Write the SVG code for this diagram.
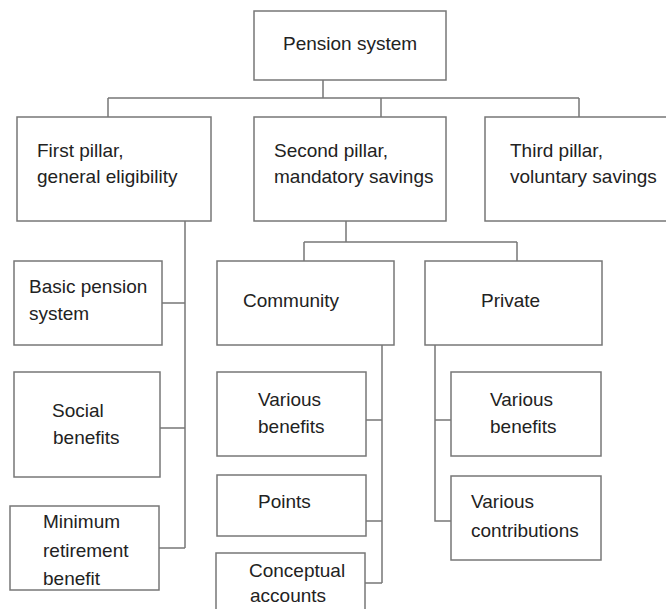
<svg xmlns="http://www.w3.org/2000/svg" width="666" height="609" viewBox="0 0 666 609">
<style>
.box{fill:#fff;stroke:#777;stroke-width:1.5}
.ln{fill:none;stroke:#777;stroke-width:1.5}
text{font-family:"Liberation Sans",Arial,sans-serif;font-size:19px;fill:#222}
</style>
<rect width="666" height="609" fill="#fff"/>
<g id="connectors" class="ln">
<path d="M323 80V98M108 98H579M108 98V117M381 98V117M579 98V117"/>
<path d="M185 221V548M162 303H185M160 428H185M159 548H185"/>
<path d="M346 221V242M304 242H517M304 242V261M517 242V261"/>
<path d="M382 345V583M366 420H382M366 521H382M365 583H382"/>
<path d="M435 345V521H451M435 420H451"/>
</g>
<g id="root"><rect class="box" x="254" y="11" width="192" height="69"/><text x="283" y="50">Pension system</text></g>
<g id="first"><rect class="box" x="17" y="117" width="194" height="104"/><text x="37" y="157">First pillar,</text><text x="37" y="183">general eligibility</text></g>
<g id="second"><rect class="box" x="254" y="117" width="192" height="104"/><text x="274" y="157">Second pillar,</text><text x="274" y="183">mandatory savings</text></g>
<g id="third"><rect class="box" x="485" y="117" width="190" height="104"/><text x="510" y="157">Third pillar,</text><text x="510" y="183">voluntary savings</text></g>
<g id="basic"><rect class="box" x="14" y="261" width="148" height="84"/><text x="29" y="293">Basic pension</text><text x="29" y="320">system</text></g>
<g id="social"><rect class="box" x="14" y="372" width="146" height="105"/><text x="52" y="417">Social</text><text x="53" y="444">benefits</text></g>
<g id="minimum"><rect class="box" x="10" y="506" width="149" height="84"/><text x="43" y="528">Minimum</text><text x="43" y="557">retirement</text><text x="43" y="585">benefit</text></g>
<g id="community"><rect class="box" x="217" y="261" width="177" height="84"/><text x="243" y="307">Community</text></g>
<g id="private"><rect class="box" x="425" y="261" width="177" height="84"/><text x="481" y="307">Private</text></g>
<g id="cvarious"><rect class="box" x="217" y="372" width="149" height="84"/><text x="258" y="406">Various</text><text x="258" y="433">benefits</text></g>
<g id="points"><rect class="box" x="217" y="475" width="149" height="61"/><text x="258" y="508">Points</text></g>
<g id="conceptual"><rect class="box" x="216" y="553" width="149" height="70"/><text x="249" y="577">Conceptual</text><text x="250" y="602">accounts</text></g>
<g id="pvarious"><rect class="box" x="451" y="372" width="150" height="84"/><text x="490" y="406">Various</text><text x="490" y="433">benefits</text></g>
<g id="contributions"><rect class="box" x="451" y="476" width="150" height="84"/><text x="471" y="508">Various</text><text x="471" y="537">contributions</text></g>
</svg>
